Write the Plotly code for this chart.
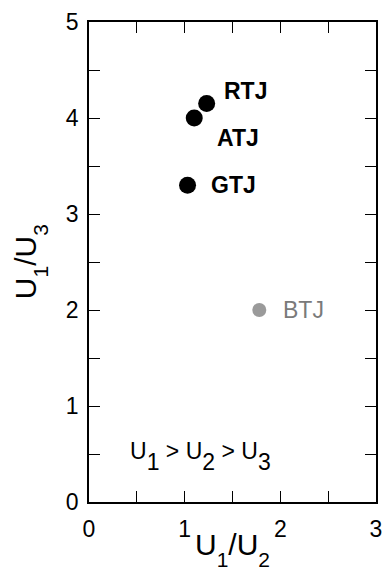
import plotly.graph_objects as go

names = ["RTJ", "ATJ", "GTJ", "BTJ"]
u1_u2 = [1.23, 1.10, 1.03, 1.78]
u1_u3 = [4.15, 4.00, 3.30, 2.00]
colors = ["black", "black", "black", "#9a9a9a"]
sizes = [17, 17, 17, 14]

x_ticks = [0, 1, 2, 3]
y_ticks = [0, 1, 2, 3, 4, 5]

FONT = "Liberation Sans, Arial, Helvetica, sans-serif"

fig = go.Figure()
fig.add_trace(go.Scatter(
    x=u1_u2, y=u1_u3, mode="markers",
    marker=dict(color=colors, size=sizes, opacity=1, line=dict(width=0)),
    showlegend=False, hoverinfo="skip"))

label_shift = {"RTJ": (15, 13), "ATJ": (21, -20), "GTJ": (21, 0), "BTJ": (22, 0)}
for n, x, y in zip(names, u1_u2, u1_u3):
    dx, dy = label_shift[n]
    bold = n != "BTJ"
    fig.add_annotation(
        x=x, y=y, xref="x", yref="y", showarrow=False,
        text=f"<b>{n}</b>" if bold else n,
        xanchor="left", yanchor="middle", xshift=dx, yshift=dy,
        font=dict(family=FONT, size=23,
                  color="black" if bold else "#7a7a7a"))

def fsub(s, px, shift):
    return f'<span style="font-size:{px}px;baseline-shift:-{shift}px">{s}</span>'

fig.add_annotation(
    x=0.41, y=0.5, xref="x", yref="y", showarrow=False,
    text=f"U{fsub('1', 23, 11)} > U{fsub('2', 23, 11)} > U{fsub('3', 23, 11)}",
    xanchor="left", yanchor="middle", yshift=-2,
    font=dict(family=FONT, size=23, color="black"))

fig.add_annotation(
    x=-0.205, y=0.5, xref="paper", yref="paper", showarrow=False,
    text=f"U{fsub('1', 21, 12)}/U{fsub('3', 21, 12)}", textangle=-90,
    xanchor="center", yanchor="middle",
    font=dict(family=FONT, size=30, color="black"))
fig.add_annotation(
    x=0.5, y=-0.05, xref="paper", yref="paper", showarrow=False,
    text=f"U{fsub('1', 21, 12)}/U{fsub('2', 21, 12)}",
    xanchor="center", yanchor="top",
    font=dict(family=FONT, size=30, color="black"))

axis_common = dict(
    showline=True, linecolor="black", linewidth=1.5, mirror="ticks",
    ticks="inside", ticklen=11, tickwidth=1.2, tickcolor="black",
    showgrid=False, zeroline=False,
    tickfont=dict(family=FONT, size=23, color="black"),
    minor=dict(ticks="inside", ticklen=11, tickwidth=1.2, tickcolor="black", dtick=0.5),
)

fig.update_xaxes(range=[0, 3], tickvals=x_ticks, ticklabelstandoff=6, **axis_common)
fig.update_yaxes(range=[0, 5], tickvals=y_ticks, ticklabelstandoff=4, **axis_common)

fig.update_layout(
    width=391, height=572,
    margin=dict(l=89, r=9, t=13, b=70),
    plot_bgcolor="white", paper_bgcolor="white",
    font=dict(family=FONT, color="black"),
)

fig.write_html("out.html")
